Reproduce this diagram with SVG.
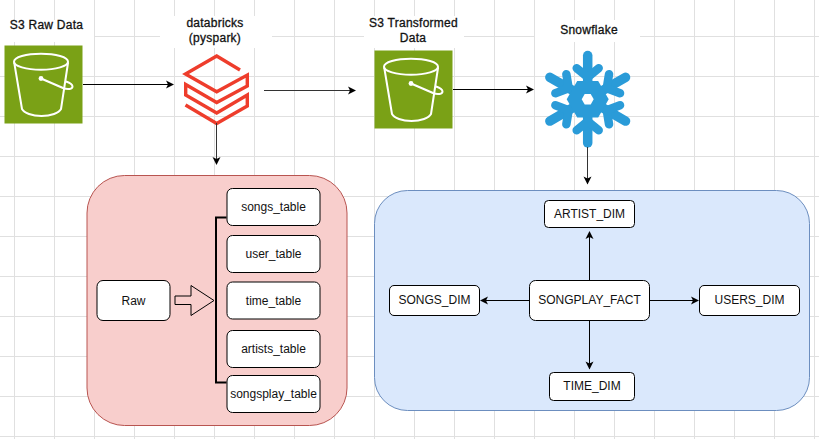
<svg xmlns="http://www.w3.org/2000/svg" xmlns:xlink="http://www.w3.org/1999/xlink" width="819" height="439" viewBox="0 0 819 439">
  <style>
    text { font-family: "Liberation Sans", Arial, sans-serif; font-size: 12px; fill: #111; text-anchor: middle; }
    .title { letter-spacing: 0.25px; stroke: #111; stroke-width: 0.3px; }
    .box { fill: #fff; stroke: #000; stroke-width: 1; }
    .conn { fill: none; stroke: #000; stroke-width: 1; }
    .soft { stroke: #333; }
    .bucketline { fill: none; stroke: #fff; stroke-width: 2; stroke-linejoin: round; stroke-linecap: round; }
  </style>
  <defs>
    <pattern id="minor" width="8" height="8" patternUnits="userSpaceOnUse" x="6" y="4">
      <path d="M8.5 0V8M0 8.5H8" fill="none" stroke="#f6f6f6" stroke-width="1"/>
    </pattern>
    <pattern id="major" width="40" height="40" patternUnits="userSpaceOnUse" x="14" y="36">
      <path d="M0.5 0V40M0 0.5H40" fill="none" stroke="#e0e0e0" stroke-width="1"/>
    </pattern>
    <marker id="arrow" markerWidth="10" markerHeight="10" refX="8" refY="5" orient="auto" markerUnits="userSpaceOnUse">
      <path d="M1 1L9 5L1 9L3 5Z" fill="#000"/>
    </marker>
    <g id="bucket">
      <rect x="4.5" y="45.5" width="78" height="78" fill="#7aa116"/>
      <ellipse cx="41" cy="61.7" rx="27" ry="8" class="bucketline"/>
      <path class="bucketline" d="M14.3 63L22 109C24 113 32 116 41.5 116C51 116 59 113 61 109L68 63"/>
      <path class="bucketline" d="M41 78.5L63 88C68 90 72.5 89 72.5 86.5C72.5 84 69 82.5 66 81.5"/>
      <circle cx="41" cy="78.5" r="2.4" fill="#fff"/>
    </g>
    <g id="flakearm">
      <path d="M0 -18V-43.7" fill="none" stroke="#2a9bd8" stroke-width="9.5" stroke-linecap="round"/>
      <path d="M0 -22L-11 -31M0 -22L11 -31" fill="none" stroke="#2a9bd8" stroke-width="8.5" stroke-linecap="round"/>
    </g>
  </defs>

  <rect width="819" height="439" fill="#fff"/>
  <rect width="819" height="439" fill="url(#minor)"/>
  <rect width="819" height="439" fill="url(#major)"/>

  <g id="label-backgrounds" fill="#fff">
    <rect x="0" y="20" width="94" height="22"/>
    <rect x="160" y="16" width="112" height="32"/>
    <rect x="364" y="16" width="100" height="32"/>
    <rect x="535" y="20" width="105" height="22"/>
  </g>

  <g id="s3-raw">
    <use href="#bucket"/>
    <text class="title" x="46.5" y="29">S3 Raw Data</text>
  </g>
  <g id="databricks">
    <path d="M240 70L216.7 56L185.5 74L216.7 91.7L247.3 75V86L216.7 102.5L185.7 84.5V95L216.7 113L247.3 95V106L216.7 123.5L185.5 105" fill="none" stroke="#ee3d2c" stroke-width="3.4" stroke-linejoin="miter"/>
    <text class="title" x="215" y="27">databricks</text>
    <text class="title" x="215" y="42">(pyspark)</text>
  </g>
  <g id="s3-transformed">
    <use href="#bucket" x="370" y="5"/>
    <text class="title" x="413.5" y="27">S3 Transformed</text>
    <text class="title" x="413" y="42">Data</text>
  </g>
  <g id="snowflake">
    <g transform="translate(587.7 99.2)">
      <use href="#flakearm"/>
      <use href="#flakearm" transform="rotate(60)"/>
      <use href="#flakearm" transform="rotate(120)"/>
      <use href="#flakearm" transform="rotate(180)"/>
      <use href="#flakearm" transform="rotate(240)"/>
      <use href="#flakearm" transform="rotate(300)"/>
      <path d="M-21 0L-10.5 -18.2L10.5 -18.2L21 0L10.5 18.2L-10.5 18.2Z" fill="#2a9bd8"/>
      <path d="M-6 0L-3 -5.2L3 -5.2L6 0L3 5.2L-3 5.2Z" fill="#fff"/>
    </g>
    <text class="title" x="589" y="34">Snowflake</text>
  </g>

  <g id="raw-container">
    <rect x="87" y="175.5" width="260" height="250" rx="37.5" fill="#f8cecc" stroke="#b85450"/>
  </g>
  <g id="star-container">
    <rect x="374.5" y="190.5" width="435" height="220" rx="33" fill="#dae8fc" stroke="#6c8ebf"/>
  </g>

  <g id="connectors">
    <path class="conn" d="M83 84.5H173" marker-end="url(#arrow)"/>
    <path class="conn soft" d="M264 90.5H355" marker-end="url(#arrow)"/>
    <path class="conn" d="M453 89.5H533" marker-end="url(#arrow)"/>
    <path class="conn soft" d="M216.5 123V164" marker-end="url(#arrow)"/>
    <path class="conn soft" d="M587.5 147V183.5" marker-end="url(#arrow)"/>
    <path class="conn" d="M589.5 280V232" marker-end="url(#arrow)"/>
    <path class="conn" d="M589.5 321V368.5" marker-end="url(#arrow)"/>
    <path class="conn" d="M529 300.5H481" marker-end="url(#arrow)"/>
    <path class="conn" d="M650 300.5H698" marker-end="url(#arrow)"/>
    <path d="M175 296H191V285.5L214 300.5L191 315.5V304.5H175Z" fill="#f8cecc" stroke="#000" stroke-width="1"/>
    <path d="M226.5 217.5H216V382.5H226.5" fill="none" stroke="#000" stroke-width="2"/>
  </g>

  <g id="raw"><rect class="box" x="97" y="280.5" width="73" height="40" rx="6"/><text x="133.5" y="304.5">Raw</text></g>
  <g id="songs-table"><rect class="box" x="227" y="188.5" width="93" height="37" rx="5.5"/><text x="273.5" y="211">songs_table</text></g>
  <g id="user-table"><rect class="box" x="227" y="235.5" width="93" height="37" rx="5.5"/><text x="273.5" y="258">user_table</text></g>
  <g id="time-table"><rect class="box" x="227" y="282" width="93" height="37" rx="5.5"/><text x="273.5" y="304.5">time_table</text></g>
  <g id="artists-table"><rect class="box" x="227" y="330.5" width="93" height="37" rx="5.5"/><text x="273.5" y="353">artists_table</text></g>
  <g id="songsplay-table"><rect class="box" x="227" y="375.5" width="93" height="37" rx="5.5"/><text x="273.5" y="398">songsplay_table</text></g>

  <g id="artist-dim"><rect class="box" x="544.5" y="200.5" width="90" height="27" rx="4"/><text x="589.5" y="218">ARTIST_DIM</text></g>
  <g id="songs-dim"><rect class="box" x="389.5" y="285.5" width="90" height="30" rx="4.5"/><text x="434.5" y="303.5">SONGS_DIM</text></g>
  <g id="songplay-fact"><rect class="box" x="529.5" y="280.5" width="120" height="40" rx="6"/><text x="589.5" y="303.5">SONGPLAY_FACT</text></g>
  <g id="users-dim"><rect class="box" x="699.5" y="285.5" width="100" height="30" rx="4.5"/><text x="749.5" y="303.5">USERS_DIM</text></g>
  <g id="time-dim"><rect class="box" x="549.5" y="372.5" width="85" height="28" rx="4"/><text x="592" y="390">TIME_DIM</text></g>
</svg>
